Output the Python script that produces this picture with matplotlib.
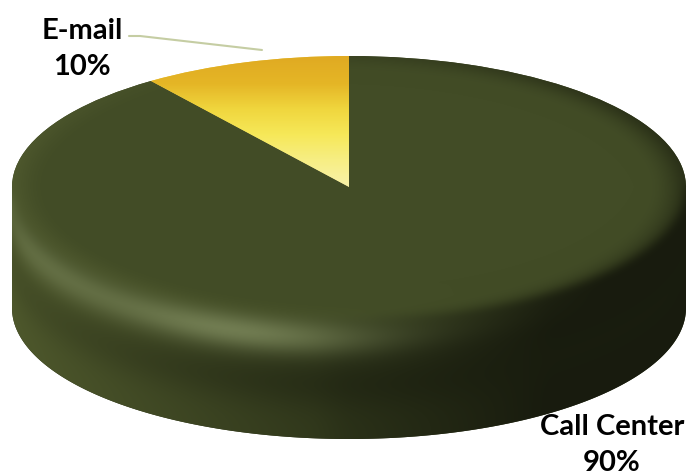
import numpy as np
import matplotlib
matplotlib.use("Agg")
import matplotlib.pyplot as plt
from matplotlib.patches import Polygon

# ---- data ----
categories = ["E-mail", "Call Center"]
values = [10, 90]
pct_labels = ["10%", "90%"]

# ---- layout (pixels) ----
W, H = 689, 477
cx, cy = 349, 188      # top-surface centre
a, b = 337, 131        # top ellipse semi axes
depth = 121            # thickness of the disc

fig = plt.figure(figsize=(W / 100, H / 100), dpi=100)
ax = fig.add_axes([0, 0, 1, 1])

def d2x(px):
    return (px - cx) / a

def d2y(py):
    return -(py - cy) / b

wedges, _ = ax.pie(values, startangle=90, counterclock=True, radius=1.0,
                   center=(0, 0), colors=["#e8c53a", "#414b25"],
                   wedgeprops=dict(linewidth=0))

D = depth / b
extent = (d2x(0), d2x(W), d2y(H), d2y(0))

X = (np.arange(W) + 0.5)
Y = (np.arange(H) + 0.5)
XX, YY = np.meshgrid(X, Y)
U = (XX - cx) / a
V = -(YY - cy) / b

def mix(c1, c2, t):
    c1 = np.asarray(c1, float); c2 = np.asarray(c2, float)
    t = np.clip(t, 0, 1)[..., None]
    return c1 * (1 - t) + c2 * t

def blur(img, sigma):
    r = int(3 * sigma)
    k = np.exp(-0.5 * (np.arange(-r, r + 1) / sigma) ** 2)
    k /= k.sum()
    out = img.copy()
    for axis in (0, 1):
        pad = [(0, 0)] * img.ndim
        pad[axis] = (r, r)
        p = np.pad(out, pad, mode="edge")
        acc = np.zeros_like(out)
        n = out.shape[axis]
        for i, w in enumerate(k):
            sl = [slice(None)] * img.ndim
            sl[axis] = slice(i, i + n)
            acc += w * p[tuple(sl)]
        out = acc
    return out

# ---- top surface shading ----
R = np.sqrt(U ** 2 + V ** 2)
TH = np.arctan2(V, U)
base = np.array([66, 76, 38], float)
rim = np.clip((R - 0.9) / 0.1, 0, 1) ** 1.5
light = np.cos(TH - np.deg2rad(-160))
top = np.broadcast_to(base, U.shape + (3,)).copy()
top = mix(top, [84, 94, 49], rim * np.clip(light, 0, 1) * 0.8)
top = mix(top, [32, 36, 18], rim * np.clip(-light, 0, 1) * 0.75)

# ---- side wall shading ----
uu = np.clip(U, -1, 1)
edge = -np.sqrt(1 - uu ** 2)
S = (edge - V) / D          # 0 at rim, 1 at bottom
horiz = (U + 1) / 2        # 0 left, 1 right
side_base = mix([78, 88, 44], [46, 53, 26], np.clip(horiz / 0.5, 0, 1))
side_base = mix(side_base, [24, 27, 14], np.clip((horiz - 0.45) / 0.35, 0, 1))
# near the rim the wall continues the top colour
side_base = mix(side_base, base, np.clip(1 - S / 0.3, 0, 1) * np.clip(1.4 - 1.6 * horiz, 0, 1))
band = np.exp(-((S - 0.17) / 0.14) ** 2)
hl = np.exp(-((U + 0.35) / 0.42) ** 2) + 0.5 * np.exp(-((U + 0.95) / 0.25) ** 2)
side = mix(side_base, [128, 140, 95], band * np.clip(hl, 0, 1) * 0.85)
dark = np.exp(-((S - 0.55) / 0.2) ** 2) * np.clip(0.3 + horiz, 0, 1)
side = mix(side, [26, 30, 15], dark * 0.55)

body = np.where((V >= edge)[..., None], top, side)
body = blur(body, 5.0)
body_img = np.clip(body, 0, 255).astype(np.uint8)

# front part of the disc: lower half of the top ellipse plus the wall
ang = np.linspace(np.pi, 2 * np.pi, 200)
lower_bot = np.column_stack([np.cos(ang), np.sin(ang) - D])
front = np.vstack([[[-1, 0]], lower_bot, [[1, 0]]])
side_poly = Polygon(front, closed=True, facecolor="#2d331a",
                    edgecolor="none", zorder=1)
ax.add_patch(side_poly)
im_side = ax.imshow(body_img, extent=extent, origin="upper", zorder=1.5,
                    interpolation="bilinear")
im_side.set_clip_path(side_poly)
im_top = ax.imshow(body_img, extent=extent, origin="upper", zorder=2,
                   interpolation="bilinear")
im_top.set_clip_path(wedges[1])

# ---- E-mail wedge gradient ----
stops_y = np.array([57, 85, 110, 135, 160, 188], float)
stops_c = np.array([[224, 170, 34], [229, 182, 38], [240, 214, 62],
                    [246, 232, 88], [247, 238, 130], [248, 242, 170]], float)
em = np.stack([np.interp(YY, stops_y, stops_c[:, k]) for k in range(3)], axis=-1)
em_img = np.clip(em, 0, 255).astype(np.uint8)
im_em = ax.imshow(em_img, extent=extent, origin="upper", zorder=2.5,
                  interpolation="bilinear")
im_em.set_clip_path(wedges[0])

# ---- labels ----
font = dict(family=["Lato", "DejaVu Sans"], fontweight="bold", fontsize=21,
            color="black", ha="center", va="center", linespacing=1.5)
ax.text(d2x(82), d2y(49), f"{categories[0]}\n{pct_labels[0]}", zorder=5, **font)
ax.text(d2x(612), d2y(445), f"{categories[1]}\n{pct_labels[1]}", zorder=5, **font)

ax.plot([d2x(129), d2x(140), d2x(262)], [d2y(37), d2y(37), d2y(51)],
        color="#c5cda3", lw=1.5, zorder=4, solid_capstyle="round")

ax.set_aspect("auto")
ax.set_xlim(d2x(0), d2x(W))
ax.set_ylim(d2y(H), d2y(0))
ax.axis("off")

fig.savefig("out.png", dpi=100)
